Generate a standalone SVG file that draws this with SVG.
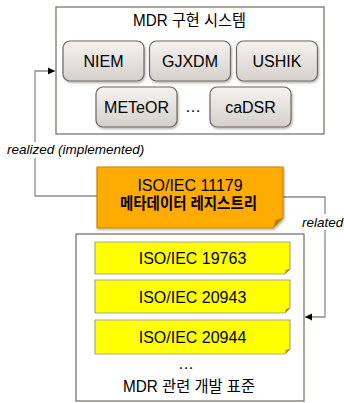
<svg xmlns="http://www.w3.org/2000/svg" width="344" height="403" viewBox="0 0 344 403">
<defs>
<linearGradient id="gNode" x1="0" y1="0" x2="0" y2="1">
<stop offset="0" stop-color="#f5f3f1"/>
<stop offset="1" stop-color="#d5d0cb"/>
</linearGradient>
<filter id="sh" x="-10%" y="-10%" width="130%" height="140%">
<feDropShadow dx="1" dy="1.5" stdDeviation="1" flood-color="#000" flood-opacity="0.3"/>
</filter>
<marker id="arr" markerWidth="8" markerHeight="8" refX="7" refY="4" orient="auto" markerUnits="userSpaceOnUse">
<path d="M0,0.5 L7,4 L0,7.5 Z" fill="#000"/>
</marker>
</defs>
<style>
.t{font-family:"Liberation Sans","Noto Sans CJK KR",Arial,sans-serif;font-size:16px;fill:#000;text-anchor:middle}
.k{font-family:"Liberation Sans","Noto Sans CJK KR",sans-serif;font-size:16px;fill:#000;text-anchor:middle}
.lbl{font-family:"Liberation Sans",Arial,sans-serif;font-size:13.5px;font-style:italic;fill:#000}
.frame{fill:#fff;stroke:#7d756e;stroke-width:1.3}
.node{fill:url(#gNode);stroke:#6f675f;stroke-width:1.2;filter:url(#sh)}
.note{fill:#ffff00;stroke:#a8a898;stroke-width:1.2}
.fold{fill:#8a8a40}
.conn{fill:none;stroke:#8c8c8c;stroke-width:1.3}
</style>
<rect width="344" height="403" fill="#fff"/>

<g id="connectors">
<path class="conn" d="M97,196 H35 V71 H55" marker-end="url(#arr)"/>
<path class="conn" d="M283,197 H325 V317 H305" marker-end="url(#arr)"/>
<rect x="5" y="142" width="146" height="16" fill="#fff"/>
<text class="lbl" x="7" y="154">realized (implemented)</text>
<rect x="300" y="214" width="44" height="16" fill="#fff"/>
<text class="lbl" x="302" y="227">related</text>
</g>

<g id="mdr-systems">
<rect class="frame" x="56" y="7" width="268" height="127"/>
<text class="k" x="189.5" y="25.5" textLength="113" lengthAdjust="spacingAndGlyphs">MDR 구현 시스템</text>
</g>
<g id="niem"><rect class="node" x="63" y="41" width="81" height="40" rx="7"/><text class="t" x="103.5" y="67">NIEM</text></g>
<g id="gjxdm"><rect class="node" x="149.5" y="41" width="81" height="40" rx="7"/><text class="t" x="190" y="67">GJXDM</text></g>
<g id="ushik"><rect class="node" x="236.5" y="41" width="81" height="40" rx="7"/><text class="t" x="277" y="67">USHIK</text></g>
<g id="meteor"><rect class="node" x="96" y="87" width="81" height="40" rx="7"/><text class="t" x="136.5" y="113">METeOR</text></g>
<g id="dots1"><text class="t" x="193" y="112">…</text></g>
<g id="cadsr"><rect class="node" x="210" y="87" width="81" height="40" rx="7"/><text class="t" x="250.5" y="113">caDSR</text></g>

<g id="iso11179">
<path d="M97,167 H283 V218 L273,228 H97 Z" fill="#ffab00" stroke="#c88600" stroke-width="1.2" filter="url(#sh)"/>
<path d="M283,218 L275.5,220 L273,228 Z" fill="#b77c00"/>
<text class="t" x="190" y="191">ISO/IEC 11179</text>
<text class="k" x="188.5" y="209" font-weight="bold" textLength="137" lengthAdjust="spacingAndGlyphs">메타데이터 레지스트리</text>
</g>

<g id="mdr-standards">
<rect class="frame" x="76" y="234" width="228" height="167"/>
<text class="k" x="189" y="392" textLength="132" lengthAdjust="spacingAndGlyphs">MDR 관련 개발 표준</text>
<text class="t" x="186" y="369">…</text>
</g>
<g id="iso19763">
<path class="note" d="M95,242 H290 V269 L285,274 H95 Z"/>
<path class="fold" d="M290,269 L286,270 L285,274 Z"/>
<text class="t" x="192.5" y="264">ISO/IEC 19763</text>
</g>
<g id="iso20943">
<path class="note" d="M95,280 H290 V308 L285,313 H95 Z"/>
<path class="fold" d="M290,308 L286,309 L285,313 Z"/>
<text class="t" x="192.5" y="302.5">ISO/IEC 20943</text>
</g>
<g id="iso20944">
<path class="note" d="M95,320 H290 V349 L285,354 H95 Z"/>
<path class="fold" d="M290,349 L286,350 L285,354 Z"/>
<text class="t" x="192.5" y="343">ISO/IEC 20944</text>
</g>
</svg>
